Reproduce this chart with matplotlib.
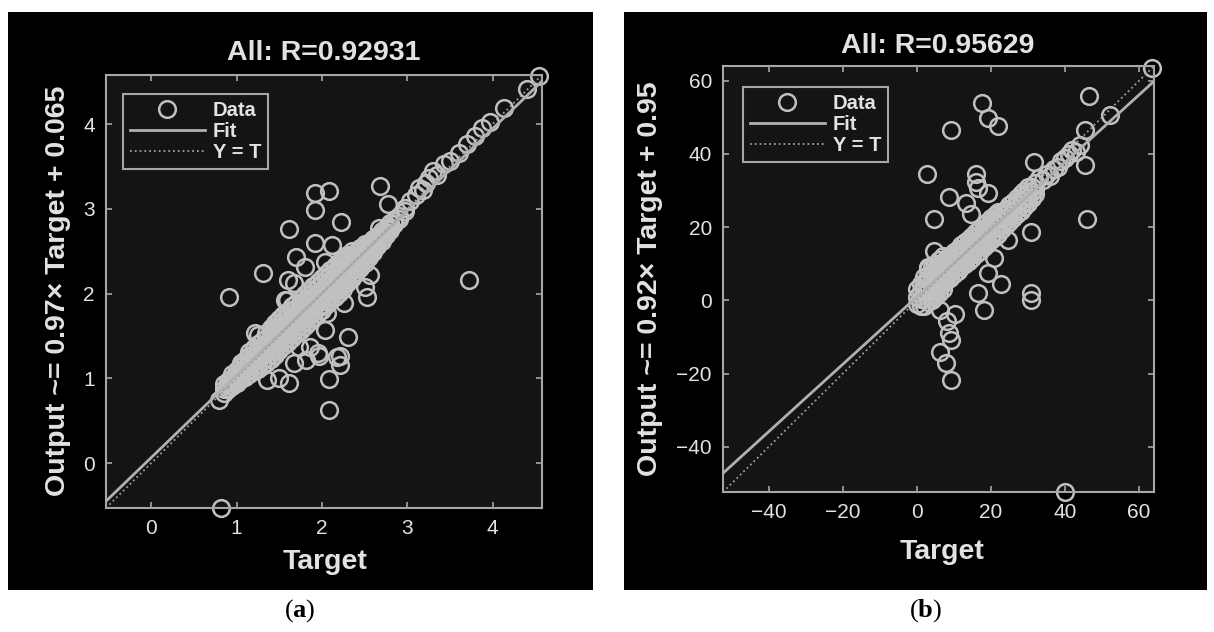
import matplotlib
matplotlib.use('Agg')
import matplotlib.pyplot as plt
from matplotlib.patches import Rectangle
import numpy as np

plt.rcParams['font.family'] = ['Liberation Sans', 'DejaVu Sans']
plt.rcParams['mathtext.fontset'] = 'custom'
plt.rcParams['mathtext.rm'] = 'Liberation Serif'
plt.rcParams['mathtext.bf'] = 'Liberation Serif:bold'

W, H = 1214, 632

# ---- panel (a): regression of outputs vs targets ----
title_a = 'All: R=0.92931'
ylabel_a = 'Output ~= 0.97\u00d7 Target + 0.065'
fit_a = (0.97, 0.065)
lim_a = (-0.53, 4.58)
ticks_a = [0, 1, 2, 3, 4]

# dense band: (target, [outputs...])
band_a = [
    (0.85, [0.83, 0.88, 0.93]),
    (0.90, [0.87, 0.92, 0.97]),
    (0.95, [0.91, 0.96, 1.01, 1.05]),
    (1.00, [0.95, 1.00, 1.05, 1.10]),
    (1.05, [0.99, 1.04, 1.09, 1.14, 1.18]),
    (1.10, [1.02, 1.07, 1.12, 1.17, 1.22]),
    (1.15, [1.05, 1.10, 1.16, 1.21, 1.26, 1.31]),
    (1.20, [1.09, 1.14, 1.20, 1.25, 1.30, 1.36]),
    (1.25, [1.11, 1.17, 1.23, 1.29, 1.35, 1.41]),
    (1.30, [1.14, 1.20, 1.26, 1.32, 1.38, 1.44]),
    (1.35, [1.18, 1.24, 1.30, 1.36, 1.42, 1.48, 1.54]),
    (1.40, [1.23, 1.29, 1.35, 1.42, 1.48, 1.54, 1.60]),
    (1.45, [1.28, 1.34, 1.40, 1.47, 1.53, 1.59, 1.65]),
    (1.50, [1.33, 1.39, 1.45, 1.52, 1.58, 1.64, 1.70]),
    (1.55, [1.38, 1.44, 1.50, 1.57, 1.63, 1.69, 1.75]),
    (1.60, [1.43, 1.49, 1.55, 1.62, 1.68, 1.74, 1.80]),
    (1.65, [1.48, 1.54, 1.60, 1.67, 1.73, 1.79, 1.85]),
    (1.70, [1.52, 1.58, 1.64, 1.71, 1.77, 1.83, 1.89]),
    (1.75, [1.57, 1.63, 1.69, 1.76, 1.82, 1.88, 1.94]),
    (1.80, [1.62, 1.68, 1.74, 1.81, 1.87, 1.93, 1.99]),
    (1.85, [1.67, 1.73, 1.79, 1.86, 1.92, 1.98, 2.04]),
    (1.90, [1.72, 1.78, 1.84, 1.91, 1.97, 2.03, 2.09]),
    (1.95, [1.77, 1.83, 1.89, 1.96, 2.02, 2.08, 2.14]),
    (2.00, [1.81, 1.87, 1.93, 2.00, 2.06, 2.12, 2.18]),
    (2.05, [1.86, 1.92, 1.98, 2.05, 2.11, 2.17, 2.23]),
    (2.10, [1.91, 1.97, 2.03, 2.10, 2.16, 2.22, 2.28]),
    (2.15, [1.96, 2.02, 2.08, 2.15, 2.21, 2.27, 2.33]),
    (2.20, [2.01, 2.07, 2.13, 2.20, 2.26, 2.32, 2.37]),
    (2.25, [2.06, 2.12, 2.18, 2.25, 2.31, 2.37, 2.41]),
    (2.30, [2.12, 2.18, 2.24, 2.30, 2.36, 2.42, 2.46]),
    (2.35, [2.18, 2.23, 2.29, 2.35, 2.40, 2.46, 2.50]),
    (2.40, [2.24, 2.29, 2.34, 2.39, 2.44, 2.49]),
    (2.45, [2.30, 2.35, 2.40, 2.44, 2.49, 2.54]),
    (2.50, [2.36, 2.41, 2.45, 2.49, 2.54, 2.58]),
    (2.55, [2.43, 2.47, 2.51, 2.55, 2.60]),
    (2.60, [2.49, 2.53, 2.57, 2.61, 2.65]),
    (2.65, [2.56, 2.60, 2.64, 2.68]),
    (2.70, [2.62, 2.66, 2.70, 2.74]),
    (2.75, [2.69, 2.73, 2.77]),
    (2.80, [2.75, 2.79, 2.83]),
    (2.85, [2.82, 2.86]),
    (2.90, [2.88, 2.92]),
]
# sparse points (target, output)
points_a = [
    (2.98, 3.01), (3.03, 3.09), (3.10, 3.16), (3.14, 3.25), (3.18, 3.22),
    (3.22, 3.30), (3.26, 3.36), (3.30, 3.45), (3.35, 3.40), (3.43, 3.53),
    (3.50, 3.56), (3.61, 3.66), (3.70, 3.76), (3.79, 3.86), (3.88, 3.95),
    (3.97, 4.03), (4.13, 4.19), (4.40, 4.42), (4.55, 4.57),
    (1.92, 3.19), (2.08, 3.21), (1.92, 2.99), (2.68, 3.27), (2.78, 3.06),
    (2.23, 2.85), (1.62, 2.76), (1.92, 2.60), (2.12, 2.57), (1.70, 2.43),
    (1.80, 2.31), (1.31, 2.24), (0.91, 1.96), (1.60, 2.16), (1.67, 2.12),
    (2.04, 2.37), (2.56, 2.22), (2.50, 2.08), (2.53, 1.96), (2.26, 1.89),
    (2.31, 1.49), (2.04, 1.57), (2.18, 1.25), (1.57, 1.92), (1.22, 1.54),
    (1.73, 1.37), (1.96, 1.30), (2.67, 2.78), (2.97, 2.98), (3.72, 2.16),
    (0.82, -0.53), (0.79, 0.75), (2.08, 0.63), (2.08, 0.99), (2.21, 1.26),
    (2.21, 1.16), (1.36, 0.98), (1.61, 0.95), (1.50, 1.01), (1.25, 1.51),
    (1.97, 1.26), (1.67, 1.18), (1.81, 1.22), (1.86, 1.37), (2.06, 1.77),
    (1.59, 1.92),
]

# ---- panel (b) ----
title_b = 'All: R=0.95629'
ylabel_b = 'Output ~= 0.92\u00d7 Target + 0.95'
fit_b = (0.92, 0.95)
lim_b = (-52.3, 64.0)
ticks_b = [-40, -20, 0, 20, 40, 60]

band_b = [
    (0, [-1, 1, 3]),
    (1, [-1.5, 0.5, 2.5, 4.5]),
    (2, [-1.5, 0.5, 2.5, 4.5, 6.5]),
    (3, [-0.5, 1, 2.5, 4, 5.5, 7, 8.5]),
    (4, [0, 1.5, 3, 4.5, 6, 7.5, 9]),
    (5, [1, 2.5, 4, 5.5, 7, 8.5, 10]),
    (6, [2, 3.5, 5, 6.5, 8, 9.5, 11]),
    (7, [3, 4.5, 6, 7.5, 9, 10.5, 12]),
    (8, [5.3, 6.8, 8.3, 9.8, 11.3]),
    (9, [6.2, 7.7, 9.2, 10.7, 12.2]),
    (10, [7.1, 8.6, 10.1, 11.6, 13.1]),
    (11, [8, 9.5, 11, 12.5, 14]),
    (12, [9, 10.5, 12, 13.5, 15]),
    (13, [9.9, 11.4, 12.9, 14.4, 15.9]),
    (14, [10.8, 12.3, 13.8, 15.3, 16.8]),
    (15, [11.7, 13.2, 14.7, 16.2, 17.7]),
    (16, [12.7, 14.2, 15.7, 17.2, 18.7]),
    (17, [13.6, 15.1, 16.6, 18.1, 19.6]),
    (18, [14.5, 16, 17.5, 19, 20.5]),
    (19, [15.4, 16.9, 18.4, 19.9, 21.4]),
    (20, [16.4, 17.9, 19.4, 20.9, 22.4]),
    (21, [17.3, 18.8, 20.3, 21.8, 23.3]),
    (22, [18.2, 19.7, 21.2, 22.7, 24.2]),
    (23, [19.6, 21.1, 22.6, 24.1]),
    (24, [20.5, 22, 23.5, 25]),
    (25, [21.5, 23, 24.5, 26]),
    (26, [22.5, 24, 25.5, 27]),
    (27, [23.5, 25, 26.5, 28]),
    (28, [24.5, 26, 27.5, 29]),
    (29, [25.5, 27, 28.5, 30]),
    (30, [26.5, 28, 29.5, 31]),
    (31, [28, 29.5, 31]),
    (32, [29, 30.5, 32]),
]
points_b = [
    (33, 33.5), (34, 33), (35, 34.5), (36, 34), (37, 36), (38, 36.5),
    (39, 38), (40, 39), (41, 40), (42, 41), (43, 40.5), (44, 42.5),
    (45.4, 46.4), (52.2, 50.5), (63.5, 63.5),
    (46.5, 55.7), (17.5, 53.8), (19.1, 49.9), (21.8, 47.5), (9.1, 46.6),
    (31.5, 37.9), (45.4, 37.1), (2.7, 34.6), (15.9, 34.6), (15.9, 32.2),
    (16.4, 30.8), (8.6, 28.1), (19.1, 29.2), (4.6, 22.1), (46.0, 22.1),
    (30.9, 18.8), (13.4, 26.5), (14.5, 23.7), (30.9, 1.9),
    (4.6, 13.6), (3.0, 9.0), (20.7, 11.7), (22.6, 4.6), (16.4, 1.9),
    (24.7, 16.4), (19.1, 7.6),
    (40.0, -52.3), (9.1, -21.8), (7.8, -17.2), (6.2, -14.2), (9.1, -10.9),
    (8.6, -9.0), (8.1, -5.5), (18.0, -2.7), (10.2, -3.6), (6.2, -2.7),
    (30.9, 0.0),
]

# ---- colours ----
PANEL = '#000000'
AX_BG = '#141414'
SPINE = '#a6a6a6'
TXT = '#e2e2e2'
RING = '#c0c0c0'
FIT = '#b0b0b0'
DIAG = '#a0a0a0'


def px(x, y):
    return x / W, 1 - y / H


def unpack(band, pts):
    xs, ys = [], []
    for t, outs in band:
        for o in outs:
            xs.append(t)
            ys.append(o)
    for t, o in pts:
        xs.append(t)
        ys.append(o)
    return np.array(xs), np.array(ys)


def draw_panel(ax, band, pts, fit, lim, ticks, legend_off):
    tgt, out = unpack(band, pts)
    xs = np.array(lim)
    ax.set_facecolor(AX_BG)
    ax.plot(tgt, out, 'o', mfc='none', mec=RING, ms=12, mew=1.8,
            label='Data', clip_on=False, zorder=2)
    ax.plot(xs, fit[0] * xs + fit[1], '-', color=FIT, lw=2, label='Fit', zorder=3)
    ax.plot(xs, xs, ':', color=DIAG, lw=1.3, label='Y = T', zorder=3)
    ax.set_xlim(lim)
    ax.set_ylim(lim)
    ax.set_xticks(ticks)
    ax.set_yticks(ticks)
    for s in ax.spines.values():
        s.set_color(SPINE)
        s.set_linewidth(1.5)
    ax.tick_params(direction='in', length=4, width=1.2, color=SPINE,
                   labelcolor=TXT, labelsize=15, top=True, right=True, pad=8)
    leg = ax.legend(loc='upper left', bbox_to_anchor=legend_off, borderaxespad=0,
                    frameon=True, fancybox=False, edgecolor=SPINE, facecolor=AX_BG,
                    framealpha=1, prop={'size': 14.5, 'weight': 'bold'},
                    labelcolor=TXT, handlelength=3.7, handletextpad=0.4,
                    labelspacing=0.1, borderpad=0.35, numpoints=1)
    leg.get_frame().set_linewidth(1.5)


fig = plt.figure(figsize=(W / 100, H / 100), dpi=100, facecolor='white')

# black backgrounds of the two screenshots
for x0, x1 in [(8, 593), (624, 1207)]:
    fig.add_artist(Rectangle(px(x0, 590), (x1 - x0) / W, 578 / H,
                             transform=fig.transFigure, facecolor=PANEL,
                             edgecolor='none', zorder=0))

ax_a = fig.add_axes([106 / W, 1 - 508 / H, 436 / W, 433 / H])
ax_b = fig.add_axes([723 / W, 1 - 492 / H, 431 / W, 426 / H])

draw_panel(ax_a, band_a, points_a, fit_a, lim_a, ticks_a, (17 / 436, 1 - 19 / 433))
draw_panel(ax_b, band_b, points_b, fit_b, lim_b, ticks_b, (20 / 431, 1 - 21 / 426))

big = dict(color=TXT, fontsize=20.5, fontweight='bold', ha='center', va='center')
fig.text(*px(324, 53), title_a, **big)
fig.text(*px(938, 46), title_b, **big)
fig.text(*px(58, 291), ylabel_a, rotation=90, **big)
fig.text(*px(650, 279), ylabel_b, rotation=90, **big)
fig.text(*px(325, 562), 'Target', **big)
fig.text(*px(942, 552), 'Target', **big)

cap = dict(color='black', fontsize=19, ha='center', va='center',
           family='Liberation Serif')
fig.text(*px(300, 611), r'($\mathbf{a}$)', **cap)
fig.text(*px(926, 611), r'($\mathbf{b}$)', **cap)

fig.savefig('out.png', dpi=100, facecolor='white')
